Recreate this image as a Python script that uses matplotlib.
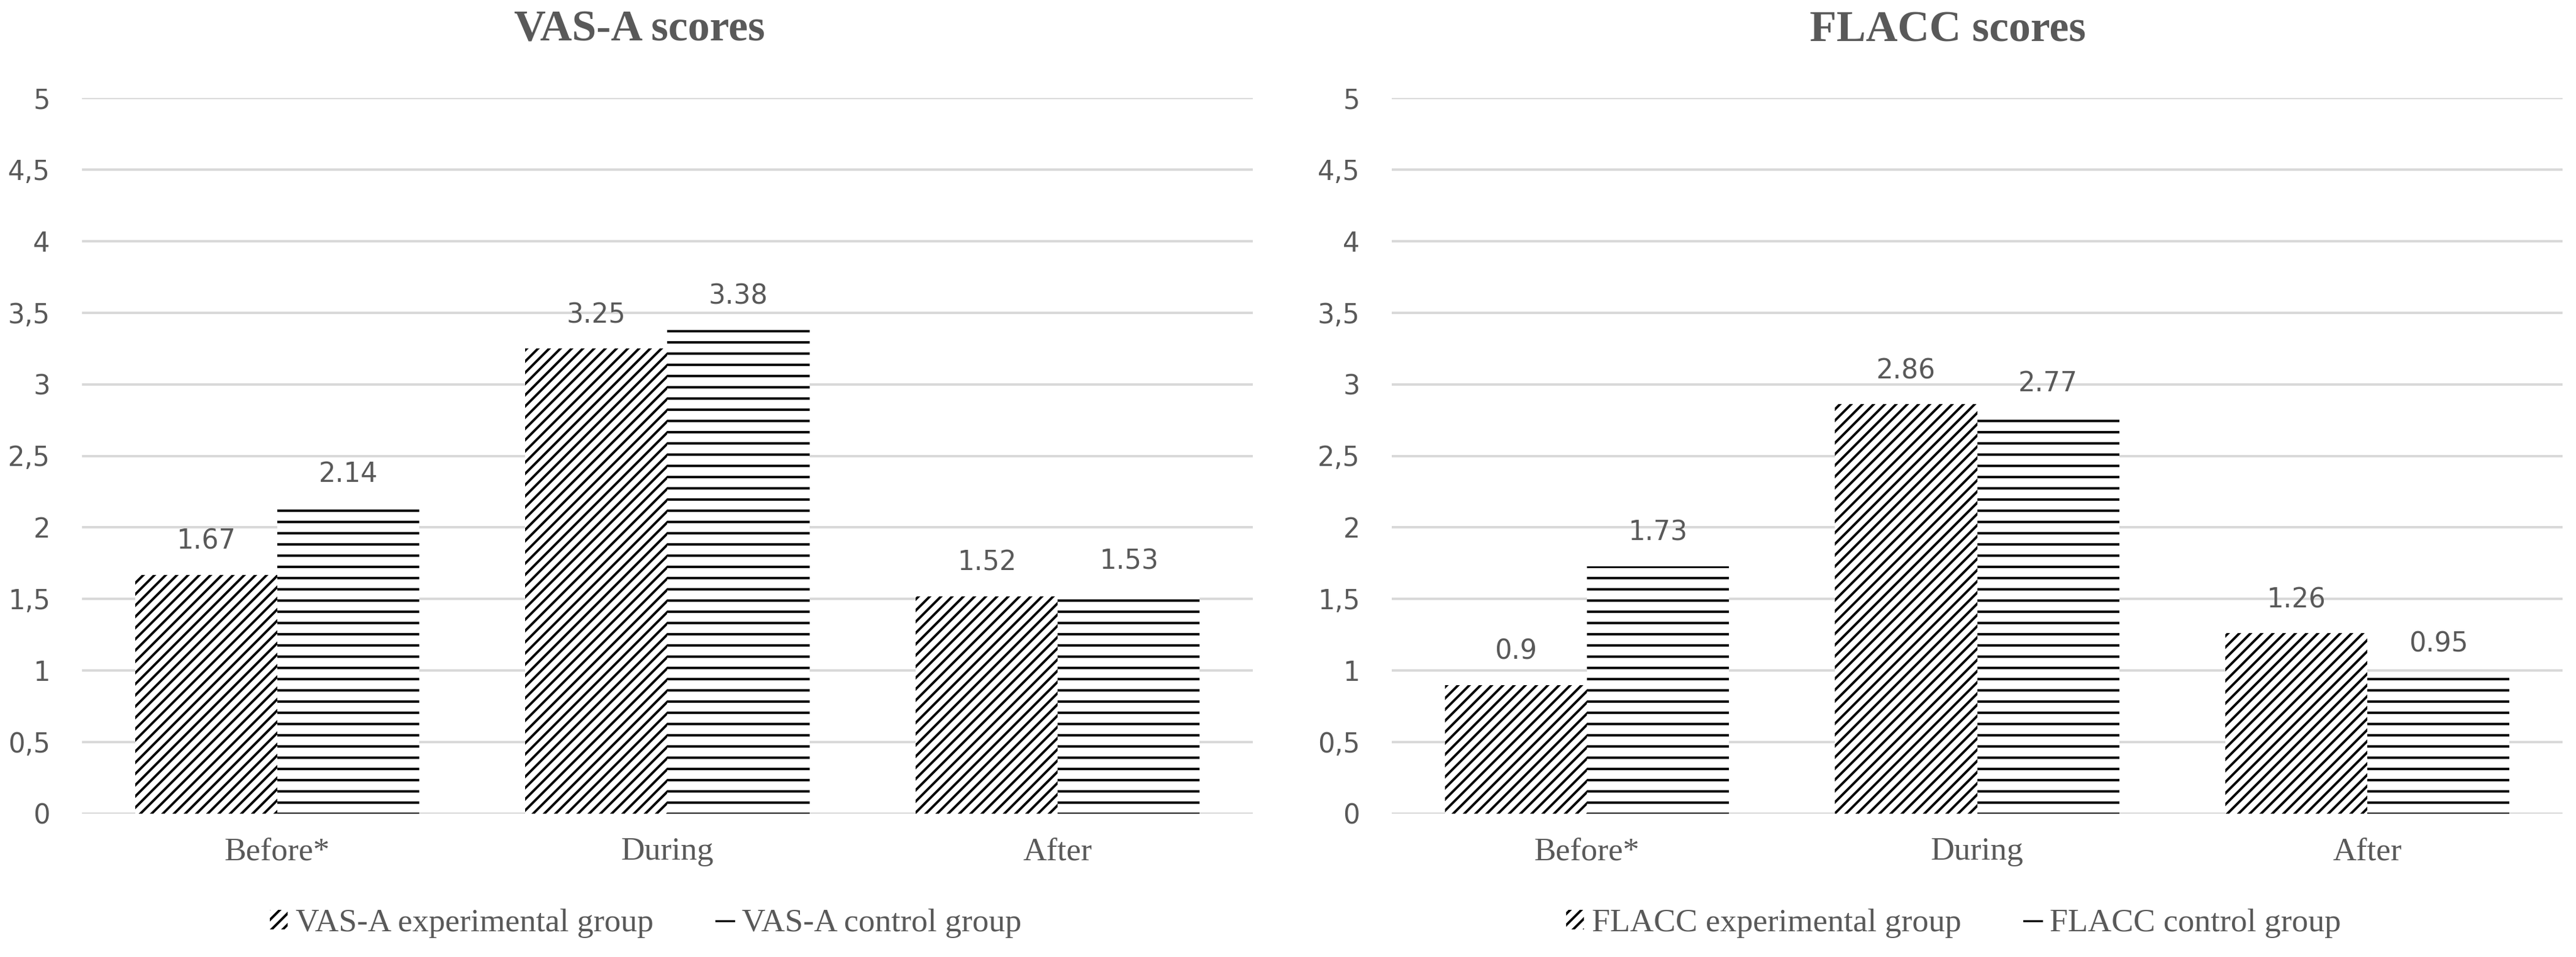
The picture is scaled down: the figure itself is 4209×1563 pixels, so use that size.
import matplotlib
matplotlib.use("Agg")
import matplotlib.pyplot as plt
import matplotlib.patches as mpatches
from matplotlib.lines import Line2D
import numpy as np

# ---- data ----
categories = ["Before*", "During", "After"]
vas_experimental = [1.67, 3.25, 1.52]
vas_control = [2.14, 3.38, 1.53]
flacc_experimental = [0.9, 2.86, 1.26]
flacc_control = [1.73, 2.77, 0.95]
y_ticks = [0, 0.5, 1, 1.5, 2, 2.5, 3, 3.5, 4, 4.5, 5]
y_tick_labels = ["0", "0,5", "1", "1,5", "2", "2,5", "3", "3,5", "4", "4,5", "5"]

panels = [
    ("VAS-A scores", vas_experimental, vas_control,
     "VAS-A experimental group", "VAS-A control group"),
    ("FLACC scores", flacc_experimental, flacc_control,
     "FLACC experimental group", "FLACC control group"),
]

# ---- style ----
DPI = 110
W, H = 4209, 1563
plt.rcParams["hatch.linewidth"] = 2.6
plt.rcParams["hatch.color"] = "black"
TXT = "#595959"
GRID = "#d9d9d9"
SERIF = ["Liberation Serif", "DejaVu Serif"]
SANS = ["DejaVu Sans"]

fig = plt.figure(figsize=(W / DPI, H / DPI), dpi=DPI)

axes_left_px = [134, 2274]
axes_w_px = 1913
axes_top_px, axes_bottom_px = 160, 1329
title_x_px = [1045, 3183]
legend_x_px = [1055, 3192]

bar_w = 0.364
x = np.arange(len(categories))

for i, (title, exp_vals, ctl_vals, lab_e, lab_c) in enumerate(panels):
    ax = fig.add_axes([axes_left_px[i] / W, 1 - axes_bottom_px / H,
                       axes_w_px / W, (axes_bottom_px - axes_top_px) / H])
    ax.set_xlim(-0.5, len(categories) - 0.5)
    ax.set_ylim(0, 5)
    for s in ax.spines.values():
        s.set_visible(False)
    ax.set_yticks(y_ticks)
    ax.set_yticklabels(y_tick_labels, fontsize=28.5, color=TXT, family=SANS)
    ax.set_xticks(x)
    ax.set_xticklabels(categories, fontsize=35, color=TXT, family=SERIF)
    ax.tick_params(axis="both", length=0)
    ax.tick_params(axis="y", pad=34)
    ax.tick_params(axis="x", pad=25)
    ax.yaxis.grid(True, color=GRID, linewidth=2.6)
    ax.set_axisbelow(True)

    b1 = ax.bar(x - bar_w / 2, exp_vals, bar_w, facecolor="white",
                edgecolor="black", linewidth=0, hatch="//", zorder=2)
    b2 = ax.bar(x + bar_w / 2, ctl_vals, bar_w, facecolor="white",
                edgecolor="black", linewidth=0, hatch="-", zorder=2)
    for bars, vals in ((b1, exp_vals), (b2, ctl_vals)):
        for r, v in zip(bars, vals):
            ax.annotate(f"{v:g}", (r.get_x() + r.get_width() / 2, v),
                        xytext=(0, 27.5), textcoords="offset points",
                        ha="center", va="baseline", fontsize=28.5,
                        color=TXT, family=SANS)

    fig.text(title_x_px[i] / W, 1 - 67 / H, title, ha="center",
             va="baseline", fontsize=47, fontweight="bold", color=TXT,
             family=SERIF)

    h1 = mpatches.Patch(facecolor="white", edgecolor="black", linewidth=0,
                        hatch="//")
    h2 = Line2D([], [], color="black", linewidth=2.2)
    leg = fig.legend([h1, h2], [lab_e, lab_c], loc="center",
                     bbox_to_anchor=(legend_x_px[i] / W, 1 - 1508 / H),
                     ncol=2, frameon=False, handlelength=0.54,
                     handleheight=0.52, handletextpad=0.25,
                     columnspacing=1.9, borderpad=0,
                     prop={"family": SERIF, "size": 35})
    for t in leg.get_texts():
        t.set_color(TXT)

fig.savefig("out.png", dpi=DPI, facecolor="white")
